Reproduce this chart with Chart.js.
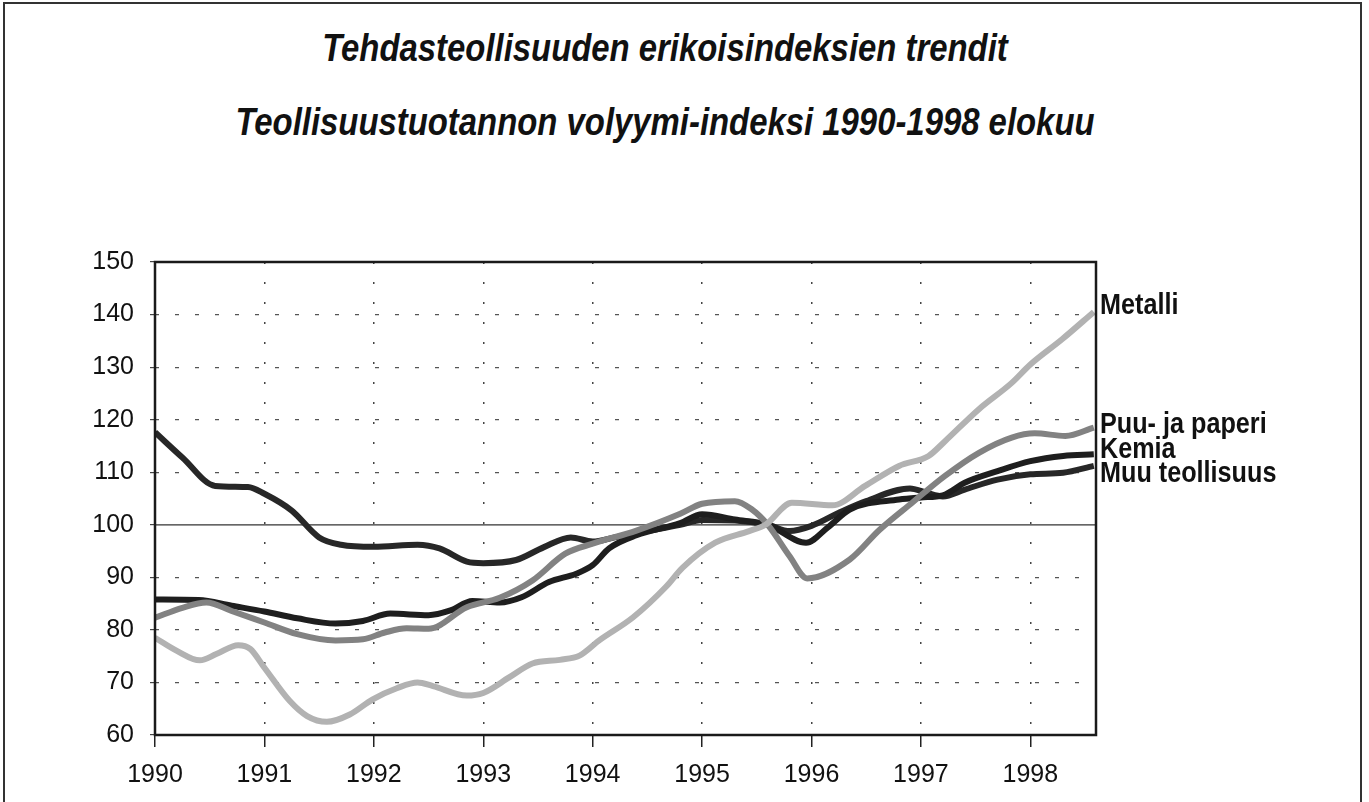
<!DOCTYPE html>
<html>
<head>
<meta charset="utf-8">
<script src="https://cdn.jsdelivr.net/npm/chart.js@4.4.0/dist/chart.umd.min.js"></script>
<style>
  html, body { margin: 0; padding: 0; background: #fff; }
  #frame { position: absolute; left: 3px; top: 2px; width: 1359px; height: 840px; border: 2px solid #333; box-sizing: border-box; }
  .title { position: absolute; left: 0; width: 1330px; text-align: center; color: #111;
           font-family: 'Liberation Sans', Arial, sans-serif;
           font-weight: bold; font-style: italic; font-size: 38px; line-height: 44px;
           transform: scaleX(0.865); transform-origin: 665px 0; }
  #wrap { position: absolute; left: 0; top: 0; width: 1369px; height: 802px; }
</style>
</head>
<body>
<div id="frame"></div>
<div class="title" style="top:26px">Tehdasteollisuuden erikoisindeksien trendit</div>
<div class="title" style="top:100px">Teollisuustuotannon volyymi-indeksi 1990-1998 elokuu</div>
<div id="wrap"><canvas id="myChart"></canvas></div>
<script>
// trend values (decimal year, index)
var metalliYears = [1990.0, 1990.2, 1990.41, 1990.56, 1990.76, 1990.87, 1991.0, 1991.23, 1991.39, 1991.57, 1991.78, 1991.99, 1992.21, 1992.4, 1992.54, 1992.85, 1993.0, 1993.24, 1993.45, 1993.7, 1993.88, 1994.06, 1994.37, 1994.67, 1994.82, 1995.12, 1995.43, 1995.58, 1995.82, 1996.19, 1996.49, 1996.8, 1997.07, 1997.22, 1997.53, 1997.83, 1998.0, 1998.29, 1998.58];
var metalliValues = [78.5, 76.0, 74.2, 75.4, 77.1, 76.4, 72.8, 66.5, 63.6, 62.5, 63.9, 66.8, 68.9, 70.0, 69.3, 67.5, 68.0, 71.0, 73.6, 74.3, 75.1, 78.0, 82.4, 88.2, 91.8, 96.6, 98.8, 100.0, 104.2, 103.7, 107.4, 111.2, 113.1, 115.9, 122.0, 127.0, 130.5, 135.3, 140.5];

var puuYears = [1990.0, 1990.25, 1990.47, 1990.7, 1991.0, 1991.3, 1991.65, 1991.9, 1992.1, 1992.3, 1992.5, 1992.85, 1993.15, 1993.45, 1993.75, 1994.0, 1994.4, 1994.8, 1995.0, 1995.3, 1995.45, 1995.6, 1995.8, 1995.96, 1996.35, 1996.62, 1996.92, 1997.22, 1997.53, 1997.83, 1998.04, 1998.32, 1998.58];
var puuValues = [82.3, 84.2, 85.2, 83.6, 81.4, 79.2, 78.0, 78.2, 79.5, 80.3, 80.2, 84.3, 86.1, 89.4, 94.5, 96.4, 98.9, 102.1, 104.0, 104.5, 103.0, 100.0, 94.0, 89.8, 93.4, 99.0, 104.2, 109.3, 113.7, 116.6, 117.4, 116.9, 118.5];

var kemiaYears = [1990.0, 1990.4, 1990.7, 1991.0, 1991.3, 1991.65, 1991.9, 1992.15, 1992.5, 1992.7, 1992.9, 1993.15, 1993.35, 1993.6, 1993.85, 1994.0, 1994.15, 1994.4, 1994.8, 1995.0, 1995.3, 1995.6, 1995.95, 1996.15, 1996.35, 1996.8, 1997.0, 1997.2, 1997.4, 1997.7, 1998.0, 1998.3, 1998.58];
var kemiaValues = [85.8, 85.7, 84.6, 83.5, 82.2, 81.2, 81.7, 83.1, 82.8, 83.7, 85.5, 85.2, 86.2, 89.1, 90.7, 92.3, 95.5, 98.0, 100.3, 102.0, 101.0, 100.0, 96.6, 99.5, 102.9, 104.8, 105.2, 105.6, 108.0, 110.2, 112.1, 113.1, 113.4];

var muuYears = [1990.0, 1990.25, 1990.55, 1990.85, 1991.0, 1991.25, 1991.5, 1991.7, 1992.0, 1992.4, 1992.6, 1992.85, 1993.0, 1993.3, 1993.55, 1993.8, 1994.0, 1994.2, 1994.5, 1994.8, 1995.0, 1995.3, 1995.6, 1995.8, 1996.0, 1996.25, 1996.5, 1996.9, 1997.05, 1997.2, 1997.4, 1997.7, 1998.0, 1998.3, 1998.58];
var muuValues = [117.6, 112.8, 107.4, 107.2, 105.9, 102.7, 97.6, 96.2, 95.8, 96.2, 95.5, 93.0, 92.7, 93.3, 95.7, 97.6, 96.8, 97.6, 98.8, 100.0, 100.9, 100.8, 100.0, 98.8, 99.8, 102.3, 104.5, 106.9, 106.1, 105.4, 106.7, 108.6, 109.6, 109.9, 111.2];

var seriesNames = ['Metalli', 'Puu- ja paperi', 'Kemia', 'Muu teollisuus'];
var yearTicks = [1990, 1991, 1992, 1993, 1994, 1995, 1996, 1997, 1998];
var valueTicks = [60, 70, 80, 90, 100, 110, 120, 130, 140, 150];

var FONT = "'Liberation Sans', Arial, sans-serif";

function pairs(xs, ys) {
    return xs.map(function (x, i) { return { x: x, y: ys[i] }; });
}

function line(label, xs, ys, color) {
    return {
        label: label,
        data: pairs(xs, ys),
        borderColor: color,
        borderWidth: 6,
        pointRadius: 0,
        fill: false,
        cubicInterpolationMode: 'monotone'
    };
}

// plot frame and the solid 100 line
var framePlugin = {
    id: 'frame',
    beforeDatasetsDraw: function (chart) {
        var c = chart.ctx, a = chart.chartArea;
        var y100 = chart.scales.y.getPixelForValue(100);
        c.save();
        c.strokeStyle = '#333';
        c.lineWidth = 1.3;
        c.beginPath();
        c.moveTo(a.left, y100);
        c.lineTo(a.right, y100);
        c.stroke();
        c.restore();
    },
    afterDraw: function (chart) {
        var c = chart.ctx, a = chart.chartArea;
        c.save();
        c.strokeStyle = '#1a1a1a';
        c.lineWidth = 2.5;
        c.strokeRect(a.left, a.top, a.right - a.left, a.bottom - a.top);
        c.restore();
    }
};

// series names written at the end of each line (narrowed like the original)
var labelShift = { 'Metalli': 2, 'Puu- ja paperi': 5, 'Kemia': 4, 'Muu teollisuus': 16 };
var endLabels = {
    id: 'endLabels',
    afterDraw: function (chart) {
        var c = chart.ctx, a = chart.chartArea;
        chart.data.datasets.forEach(function (ds, i) {
            var pts = chart.getDatasetMeta(i).data;
            var last = pts[pts.length - 1];
            c.save();
            c.translate(a.right + 4, last.y + labelShift[ds.label]);
            c.scale(0.84, 1);
            c.font = 'bold 30px ' + FONT;
            c.fillStyle = '#111';
            c.textBaseline = 'alphabetic';
            c.textAlign = 'left';
            c.fillText(ds.label, 0, 0);
            c.restore();
        });
    }
};

var ctx = document.getElementById('myChart').getContext('2d');
var myChart = new Chart(ctx, {
    type: 'line',
    data: {
        datasets: [
            line(seriesNames[0], metalliYears, metalliValues, '#b2b2b2'),
            line(seriesNames[1], puuYears, puuValues, '#828282'),
            line(seriesNames[2], kemiaYears, kemiaValues, '#1e1e1e'),
            line(seriesNames[3], muuYears, muuValues, '#272727')
        ]
    },
    options: {
        responsive: true,
        maintainAspectRatio: false,
        animation: false,
        layout: { padding: { left: 40, right: 273, top: 262, bottom: 0 } },
        plugins: {
            legend: { display: false },
            tooltip: { enabled: false }
        },
        scales: {
            x: {
                type: 'linear',
                min: yearTicks[0],
                max: 1998.6,
                afterBuildTicks: function (scale) {
                    scale.ticks = yearTicks.map(function (v) { return { value: v }; });
                },
                afterFit: function (scale) { scale.height = 67; },
                ticks: {
                    callback: function (v) { return String(v); },
                    font: { family: FONT, size: 25 },
                    color: '#111',
                    padding: 13,
                    maxRotation: 0,
                    autoSkip: false
                },
                grid: {
                    color: function (c) { return c.tick && c.tick.value === yearTicks[0] ? 'rgba(0,0,0,0)' : '#444'; },
                    lineWidth: 1.5,
                    tickColor: '#222',
                    tickLength: 12
                },
                border: { display: false, dash: [2, 18] }
            },
            y: {
                min: valueTicks[0],
                max: valueTicks[valueTicks.length - 1],
                afterBuildTicks: function (scale) {
                    scale.ticks = valueTicks.map(function (v) { return { value: v }; });
                },
                afterFit: function (scale) { scale.width = 115; },
                ticks: {
                    font: { family: FONT, size: 25 },
                    color: '#111',
                    padding: 16
                },
                grid: {
                    color: function (c) {
                        var v = c.tick && c.tick.value;
                        return (v === 100 || v === 60 || v === 150) ? 'rgba(0,0,0,0)' : '#555';
                    },
                    lineWidth: 1.2,
                    tickColor: '#444',
                    tickLength: 5
                },
                border: { display: false, dash: [4, 16] }
            }
        }
    },
    plugins: [framePlugin, endLabels]
});
</script>
</body>
</html>
